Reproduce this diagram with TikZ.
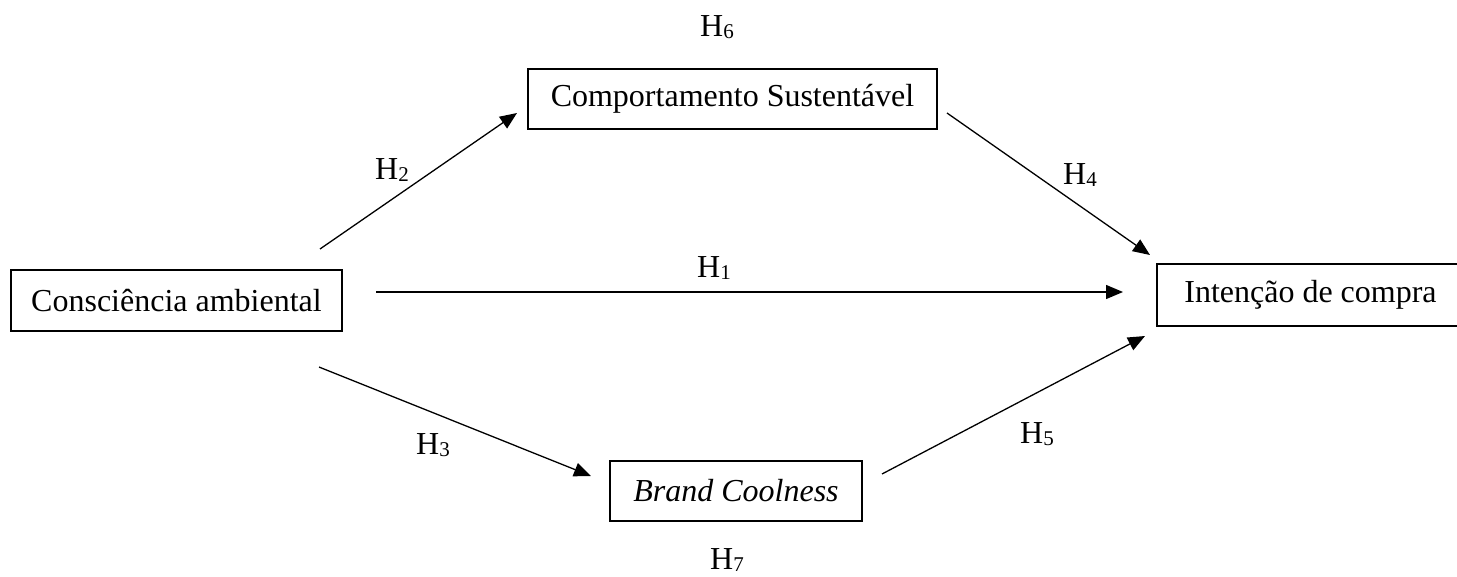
\documentclass[tikz,border=0pt]{standalone}
\usepackage{fontspec}
\setmainfont{Liberation Serif}
\usetikzlibrary{arrows.meta}

% hypothesis label: H with a small lowered index
\newcommand{\hypo}[1]{H\raisebox{-2.5pt}{\fontsize{21}{21}\selectfont #1}}

\tikzset{
  construct/.style={draw=black, line width=1.4pt, inner sep=0pt, align=center,
                    font=\fontsize{32}{38}\selectfont},
  path/.style={line width=1.3pt, -{Triangle[length=17pt, width=14pt]}},
  hlabel/.style={inner sep=0pt, font=\fontsize{32}{38}\selectfont}
}

\begin{document}
\begin{tikzpicture}[x=1pt, y=-1pt]
  \useasboundingbox (0,0) rectangle (1457,576);

  % constructs of the model
  \node[construct, minimum width=331pt, minimum height=61pt] (ca) at (176.5,300.5) {Consciência ambiental};
  \node[construct, minimum width=409pt, minimum height=60pt] (cs) at (732.5,99) {Comportamento Sustentável};
  \node[construct, minimum width=307pt, minimum height=62pt] (ic) at (1310.5,295) {Intenção de compra};
  \node[construct, minimum width=252pt, minimum height=60pt] (bc) at (736,491) {\itshape Brand Coolness};

  % end points of the hypothesised paths
  \coordinate (h2s) at (320,249);  \coordinate (h2e) at (517,113);
  \coordinate (h1s) at (376,292);  \coordinate (h1e) at (1123,292);
  \coordinate (h3s) at (319,367);  \coordinate (h3e) at (591,476);
  \coordinate (h4s) at (947,113);  \coordinate (h4e) at (1150,255);
  \coordinate (h5s) at (882,474);  \coordinate (h5e) at (1145,336);

  \draw[path] (h2s) -- (h2e);
  \draw[path] (h1s) -- (h1e);
  \draw[path] (h3s) -- (h3e);
  \draw[path] (h4s) -- (h4e);
  \draw[path] (h5s) -- (h5e);

  % hypothesis labels
  \node[hlabel] (l2) at (392,170) {\hypo{2}};
  \node[hlabel] (l1) at (714,268) {\hypo{1}};
  \node[hlabel] (l3) at (433,445) {\hypo{3}};
  \node[hlabel] (l4) at (1080,175) {\hypo{4}};
  \node[hlabel] (l5) at (1037,434) {\hypo{5}};
  \node[hlabel] (l6) at (717,27) {\hypo{6}};
  \node[hlabel] (l7) at (727,560) {\hypo{7}};
\end{tikzpicture}
\end{document}
